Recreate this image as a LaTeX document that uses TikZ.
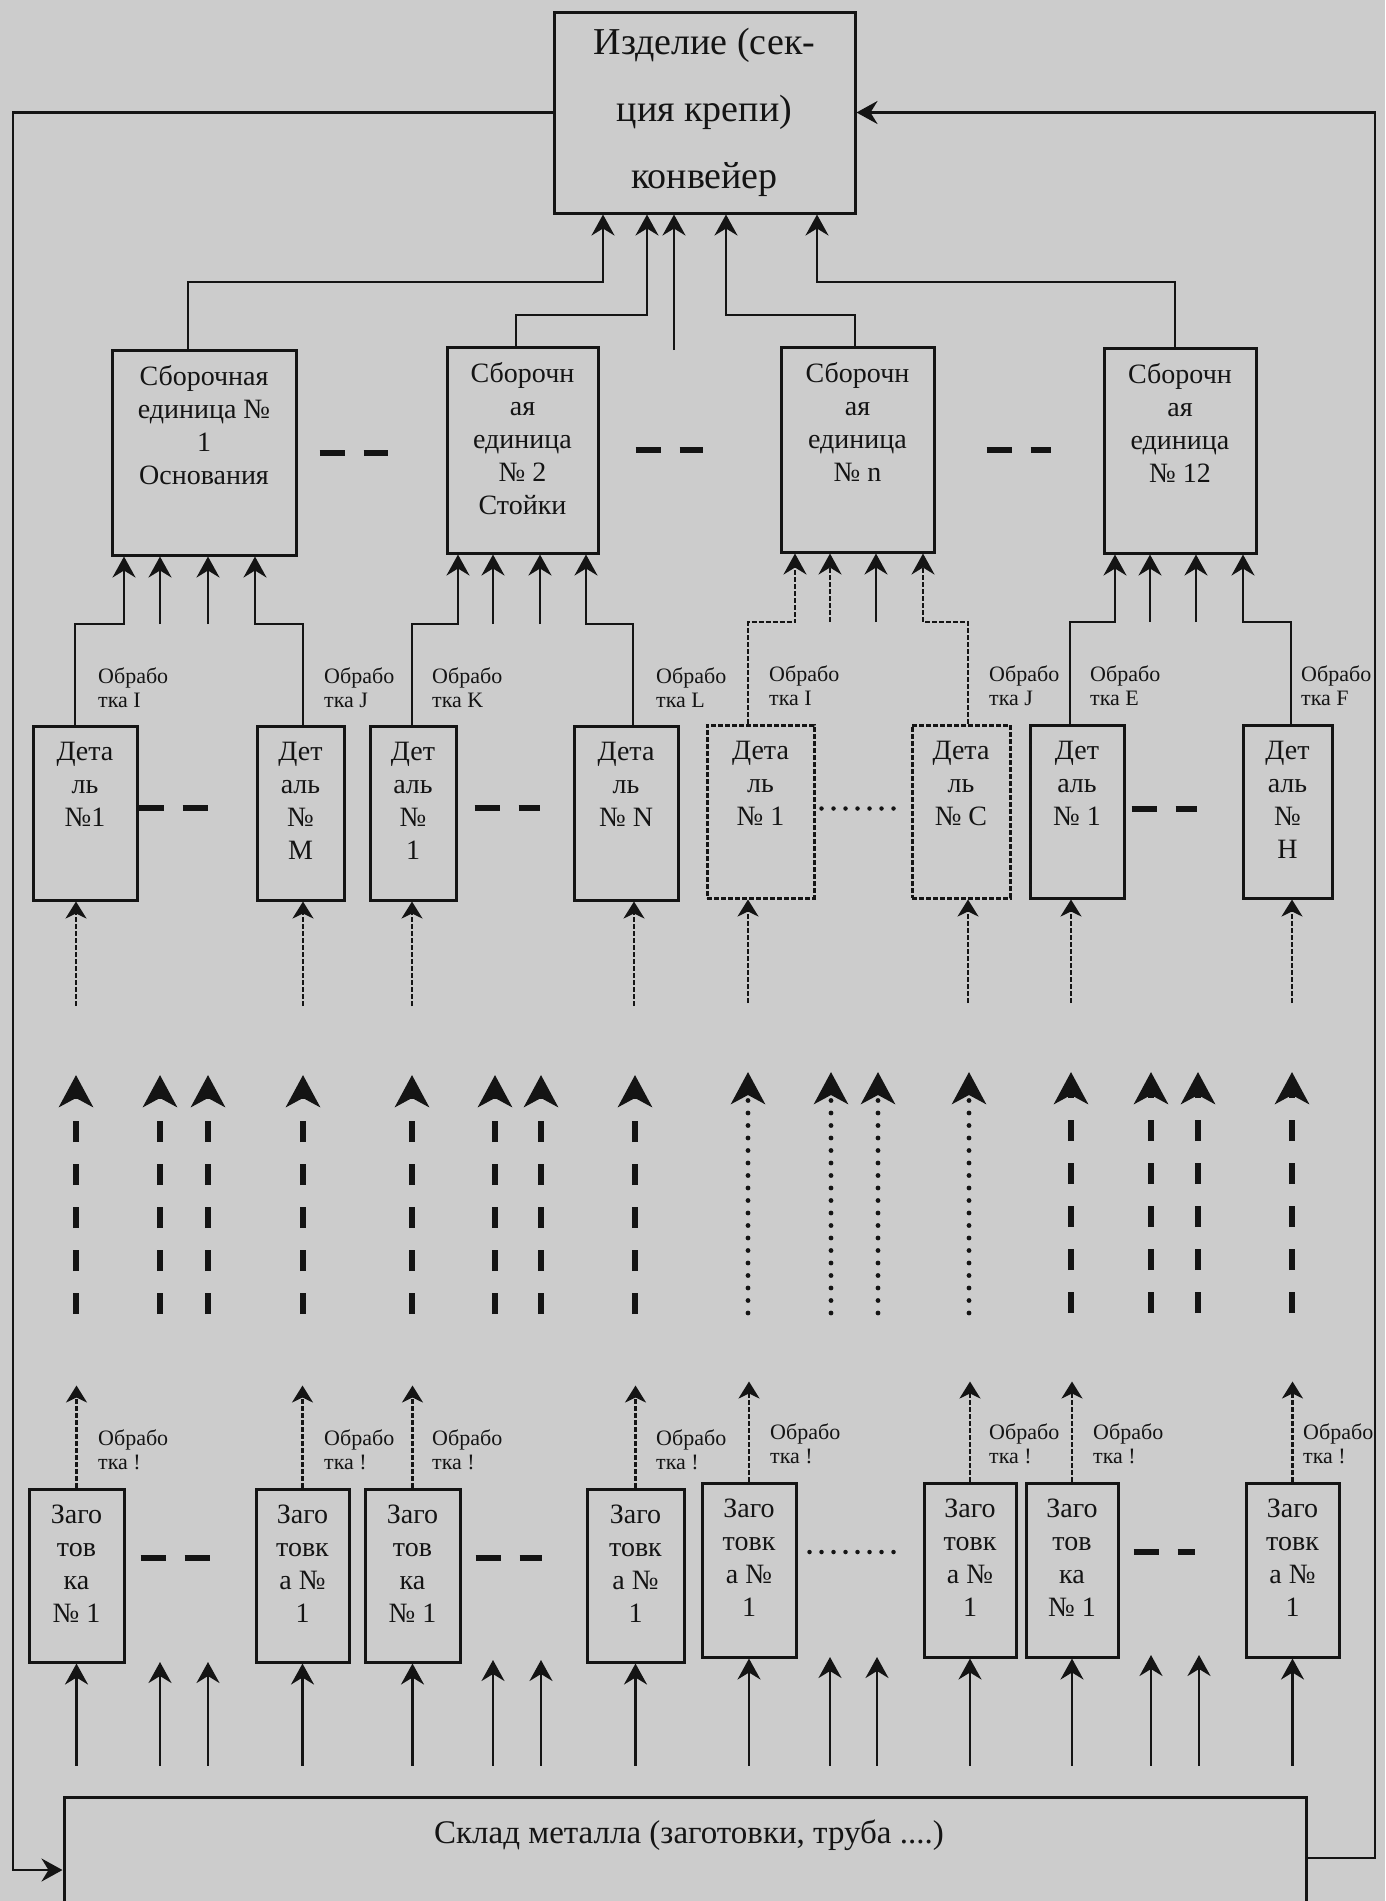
\documentclass[tikz,border=0pt]{standalone}
\usepackage{fontspec}
\setmainfont{Liberation Serif}
\usetikzlibrary{arrows.meta}

\definecolor{paper}{RGB}{204,204,204}
\definecolor{ink}{RGB}{20,20,20}
\newcommand\topfont{\fontsize{38}{67}\selectfont}
\newcommand\boxfont{\fontsize{28}{33}\selectfont}
\newcommand\lblfont{\fontsize{22}{24}\selectfont}
\newcommand\storefont{\fontsize{33}{40}\selectfont}

\begin{document}
\begin{tikzpicture}[
    x=1pt, y=-1pt,
    blk/.style={draw=ink, line width=3pt, rectangle, inner sep=0pt},
    dblk/.style={blk, dash pattern=on 5pt off 2pt},
    intxt/.style={anchor=north, align=center, inner sep=0pt, font=\boxfont, text=ink},
    lbl/.style={anchor=west, align=left, inner sep=0pt, font=\lblfont, text=ink},
    arr/.style={draw=ink, line width=2.6pt, -{Stealth[length=21pt,width=23pt,inset=7pt]}},
    darr/.style={arr, dash pattern=on 5pt off 2pt},
    sarr/.style={draw=ink, line width=2.3pt, dash pattern=on 5pt off 2pt, -{Stealth[length=17pt,width=21pt,inset=5pt]}},
    feed/.style={arr, shorten <=30pt},
    gaps/.style={draw=ink, line width=6pt, dash pattern=on 25pt off 19pt},
    dots/.style={draw=ink, line width=4.5pt, line cap=round, dash pattern=on 0pt off 12pt},
    bigdash/.style={draw=ink, line width=5.5pt, dash pattern=on 21pt off 22pt, -{Stealth[length=32pt,width=34pt,inset=9pt]}},
    bigdot/.style={draw=ink, line width=4.8pt, line cap=round, dash pattern=on 0pt off 12.5pt, -{Stealth[length=32pt,width=34pt,inset=9pt]}}
]
    \fill[paper] (0,0) rectangle (1385,1901);
    \useasboundingbox (0,0) rectangle (1385,1901);

    \node[blk, minimum width=301pt, minimum height=201pt, align=center, font=\topfont, text=ink] (prod) at (704.5,112.5) {Изделие (сек-\\ция крепи)\\конвейер};

    \node[blk, minimum width=184pt, minimum height=205pt] (sb1) at (204,452.5) {};
    \node[intxt] (sb1t) at ([yshift=-17pt]sb1.north) {Сборочная\\единица №\\1\\Основания};
    \node[blk, minimum width=151pt, minimum height=206pt] (sb2) at (522.5,450) {};
    \node[intxt] (sb2t) at ([yshift=-17pt]sb2.north) {Сборочн\\ая\\единица\\№ 2\\Стойки};
    \node[blk, minimum width=153pt, minimum height=205pt] (sb3) at (857.5,449.5) {};
    \node[intxt] (sb3t) at ([yshift=-17pt]sb3.north) {Сборочн\\ая\\единица\\№ n};
    \node[blk, minimum width=152pt, minimum height=205pt] (sb4) at (1180,450.5) {};
    \node[intxt] (sb4t) at ([yshift=-17pt]sb4.north) {Сборочн\\ая\\единица\\№ 12};

    \node[blk, minimum width=104pt, minimum height=174pt] (d1) at (85,813) {};
    \node[intxt] (d1t) at ([yshift=-17pt]d1.north) {Дета\\ль\\№1};
    \node[blk, minimum width=87pt, minimum height=174pt] (dM) at (300.5,813) {};
    \node[intxt] (dMt) at ([yshift=-17pt]dM.north) {Дет\\аль\\№\\M};
    \node[blk, minimum width=86pt, minimum height=174pt] (d1b) at (413,813) {};
    \node[intxt] (d1bt) at ([yshift=-17pt]d1b.north) {Дет\\аль\\№\\1};
    \node[blk, minimum width=104pt, minimum height=174pt] (dN) at (626,813) {};
    \node[intxt] (dNt) at ([yshift=-17pt]dN.north) {Дета\\ль\\№ N};
    \node[dblk, minimum width=107pt, minimum height=173pt] (d1c) at (760.5,811.5) {};
    \node[intxt] (d1ct) at ([yshift=-17pt]d1c.north) {Дета\\ль\\№ 1};
    \node[dblk, minimum width=98pt, minimum height=173pt] (dC) at (961,811.5) {};
    \node[intxt] (dCt) at ([yshift=-17pt]dC.north) {Дета\\ль\\№ C};
    \node[blk, minimum width=94pt, minimum height=173pt] (d1d) at (1077,811.5) {};
    \node[intxt] (d1dt) at ([yshift=-17pt]d1d.north) {Дет\\аль\\№ 1};
    \node[blk, minimum width=89pt, minimum height=173pt] (dH) at (1287.5,811.5) {};
    \node[intxt] (dHt) at ([yshift=-17pt]dH.north) {Дет\\аль\\№\\H};

    \node[blk, minimum width=95pt, minimum height=173pt] (z1) at (76.5,1575.5) {};
    \node[intxt] (z1t) at ([yshift=-17pt]z1.north) {Заго\\тов\\ка\\№ 1};
    \node[blk, minimum width=93pt, minimum height=173pt] (zM) at (302.5,1575.5) {};
    \node[intxt] (zMt) at ([yshift=-17pt]zM.north) {Заго\\товк\\а №\\1};
    \node[blk, minimum width=95pt, minimum height=173pt] (z1b) at (412.5,1575.5) {};
    \node[intxt] (z1bt) at ([yshift=-17pt]z1b.north) {Заго\\тов\\ка\\№ 1};
    \node[blk, minimum width=97pt, minimum height=173pt] (zN) at (635.5,1575.5) {};
    \node[intxt] (zNt) at ([yshift=-17pt]zN.north) {Заго\\товк\\а №\\1};
    \node[blk, minimum width=94pt, minimum height=174pt] (z1c) at (749,1570) {};
    \node[intxt] (z1ct) at ([yshift=-17pt]z1c.north) {Заго\\товк\\а №\\1};
    \node[blk, minimum width=92pt, minimum height=174pt] (zC) at (970,1570) {};
    \node[intxt] (zCt) at ([yshift=-17pt]zC.north) {Заго\\товк\\а №\\1};
    \node[blk, minimum width=92pt, minimum height=174pt] (z1d) at (1072,1570) {};
    \node[intxt] (z1dt) at ([yshift=-17pt]z1d.north) {Заго\\тов\\ка\\№ 1};
    \node[blk, minimum width=93pt, minimum height=174pt] (zH) at (1292.5,1570) {};
    \node[intxt] (zHt) at ([yshift=-17pt]zH.north) {Заго\\товк\\а №\\1};

    \node[blk, minimum width=1242pt, minimum height=146pt] (store) at (685,1870) {};
    \node[font=\storefont, text=ink, inner sep=0pt] (storet) at (689,1835) {Склад металла (заготовки, труба ....)};

    \node[lbl] (o1) at (98,688) {Обрабо\\тка I};
    \node[lbl] (o2) at (324,688) {Обрабо\\тка J};
    \node[lbl] (o3) at (432,688) {Обрабо\\тка K};
    \node[lbl] (o4) at (656,688) {Обрабо\\тка L};
    \node[lbl] (o5) at (769,686) {Обрабо\\тка I};
    \node[lbl] (o6) at (989,686) {Обрабо\\тка J};
    \node[lbl] (o7) at (1090,686) {Обрабо\\тка E};
    \node[lbl] (o8) at (1301,686) {Обрабо\\тка F};

    \node[lbl] (p1) at (98,1450) {Обрабо\\тка !};
    \node[lbl] (p2) at (324,1450) {Обрабо\\тка !};
    \node[lbl] (p3) at (432,1450) {Обрабо\\тка !};
    \node[lbl] (p4) at (656,1450) {Обрабо\\тка !};
    \node[lbl] (p5) at (770,1444) {Обрабо\\тка !};
    \node[lbl] (p6) at (989,1444) {Обрабо\\тка !};
    \node[lbl] (p7) at (1093,1444) {Обрабо\\тка !};
    \node[lbl] (p8) at (1303,1444) {Обрабо\\тка !};

    \draw[arr] (prod.west) -| (13,1870) -- (store.west);
    \draw[arr] ([yshift=12pt]store.east) -| (1375,112.5) -- (prod.east);

    \draw[arr] (sb1.north -| 188,0) |- (603,282) -- (prod.south -| 603,0);
    \draw[arr] (sb2.north -| 516,0) |- (647,315) -- (prod.south -| 647,0);
    \draw[arr] (674,350) -- (prod.south -| 674,0);
    \draw[arr] (sb3.north -| 855,0) |- (726,315) -- (prod.south -| 726,0);
    \draw[arr] (sb4.north -| 1175,0) |- (817,282) -- (prod.south -| 817,0);

    \draw[arr] (d1.north -| 75,0) |- (124,624) -- (sb1.south -| 124,0);
    \draw[arr] (160,624) -- (sb1.south -| 160,0);
    \draw[arr] (208,624) -- (sb1.south -| 208,0);
    \draw[arr] (dM.north -| 303,0) |- (255,624) -- (sb1.south -| 255,0);
    \draw[arr] (d1b.north -| 412,0) |- (458,624) -- (sb2.south -| 458,0);
    \draw[arr] (493,624) -- (sb2.south -| 493,0);
    \draw[arr] (540,624) -- (sb2.south -| 540,0);
    \draw[arr] (dN.north -| 633,0) |- (586,624) -- (sb2.south -| 586,0);
    \draw[darr] (d1c.north -| 748,0) |- (795,622) -- (sb3.south -| 795,0);
    \draw[darr] (830,622) -- (sb3.south -| 830,0);
    \draw[arr] (876,622) -- (sb3.south -| 876,0);
    \draw[darr] (dC.north -| 968,0) |- (923,622) -- (sb3.south -| 923,0);
    \draw[arr] (d1d.north -| 1070,0) |- (1115,622) -- (sb4.south -| 1115,0);
    \draw[arr] (1150,622) -- (sb4.south -| 1150,0);
    \draw[arr] (1196,622) -- (sb4.south -| 1196,0);
    \draw[arr] (dH.north -| 1291,0) |- (1243,622) -- (sb4.south -| 1243,0);

    \draw[gaps] ([xshift=22pt]sb1.east) -- ++(68,0);
    \draw[gaps] ([xshift=36pt]sb2.east) -- ++(67,0);
    \draw[gaps] ([xshift=51pt]sb3.east) -- ++(64,0);
    \draw[gaps] ([yshift=5pt]d1.east) -- ++(70,0);
    \draw[gaps] ([xshift=17pt,yshift=5pt]d1b.east) -- ++(65,0);
    \draw[dots] ([xshift=6pt,yshift=3pt]d1c.east) -- ++(81,0);
    \draw[gaps] ([xshift=6pt,yshift=3pt]d1d.east) -- ++(65,0);
    \draw[gaps] ([xshift=15pt,yshift=18pt]z1.east) -- ++(69,0);
    \draw[gaps] ([xshift=14pt,yshift=18pt]z1b.east) -- ++(66,0);
    \draw[dots] ([xshift=12pt,yshift=18pt]z1c.east) -- ++(88,0);
    \draw[gaps] ([xshift=14pt,yshift=18pt]z1d.east) -- ++(61,0);

    \draw[sarr] (76,1006) -- (d1.south -| 76,0);
    \draw[sarr] (303,1006) -- (dM.south -| 303,0);
    \draw[sarr] (412,1006) -- (d1b.south -| 412,0);
    \draw[sarr] (634,1006) -- (dN.south -| 634,0);
    \draw[sarr] (748,1003) -- (d1c.south -| 748,0);
    \draw[sarr] (968,1003) -- (dC.south -| 968,0);
    \draw[sarr] (1071,1003) -- (d1d.south -| 1071,0);
    \draw[sarr] (1292,1003) -- (dH.south -| 1292,0);

    \draw[bigdash] (76,1314) -- (76,1075);
    \draw[bigdash] (160,1314) -- (160,1075);
    \draw[bigdash] (208,1314) -- (208,1075);
    \draw[bigdash] (303,1314) -- (303,1075);
    \draw[bigdash] (412,1314) -- (412,1075);
    \draw[bigdash] (495,1314) -- (495,1075);
    \draw[bigdash] (541,1314) -- (541,1075);
    \draw[bigdash] (635,1314) -- (635,1075);
    \draw[bigdot] (748,1313) -- (748,1072);
    \draw[bigdot] (831,1313) -- (831,1072);
    \draw[bigdot] (878,1313) -- (878,1072);
    \draw[bigdot] (969,1313) -- (969,1072);
    \draw[bigdash] (1071,1313) -- (1071,1072);
    \draw[bigdash] (1151,1313) -- (1151,1072);
    \draw[bigdash] (1198,1313) -- (1198,1072);
    \draw[bigdash] (1292,1313) -- (1292,1072);

    \draw[sarr] (z1.north) -- ++(0,-102);
    \draw[sarr] (zM.north) -- ++(0,-102);
    \draw[sarr] (z1b.north) -- ++(0,-102);
    \draw[sarr] (zN.north) -- ++(0,-102);
    \draw[sarr] (z1c.north) -- ++(0,-100);
    \draw[sarr] (zC.north) -- ++(0,-100);
    \draw[sarr] (z1d.north) -- ++(0,-100);
    \draw[sarr] (zH.north) -- ++(0,-100);

    \draw[feed] (store.north -| z1.south) -- (z1.south);
    \draw[feed] (store.north -| 160,0) -- (160,1662);
    \draw[feed] (store.north -| 208,0) -- (208,1662);
    \draw[feed] (store.north -| zM.south) -- (zM.south);
    \draw[feed] (store.north -| z1b.south) -- (z1b.south);
    \draw[feed] (store.north -| 493,0) -- (493,1660);
    \draw[feed] (store.north -| 541,0) -- (541,1660);
    \draw[feed] (store.north -| zN.south) -- (zN.south);
    \draw[feed] (store.north -| z1c.south) -- (z1c.south);
    \draw[feed] (store.north -| 830,0) -- (830,1657);
    \draw[feed] (store.north -| 877,0) -- (877,1657);
    \draw[feed] (store.north -| zC.south) -- (zC.south);
    \draw[feed] (store.north -| z1d.south) -- (z1d.south);
    \draw[feed] (store.north -| 1151,0) -- (1151,1655);
    \draw[feed] (store.north -| 1199,0) -- (1199,1655);
    \draw[feed] (store.north -| zH.south) -- (zH.south);
\end{tikzpicture}
\end{document}
